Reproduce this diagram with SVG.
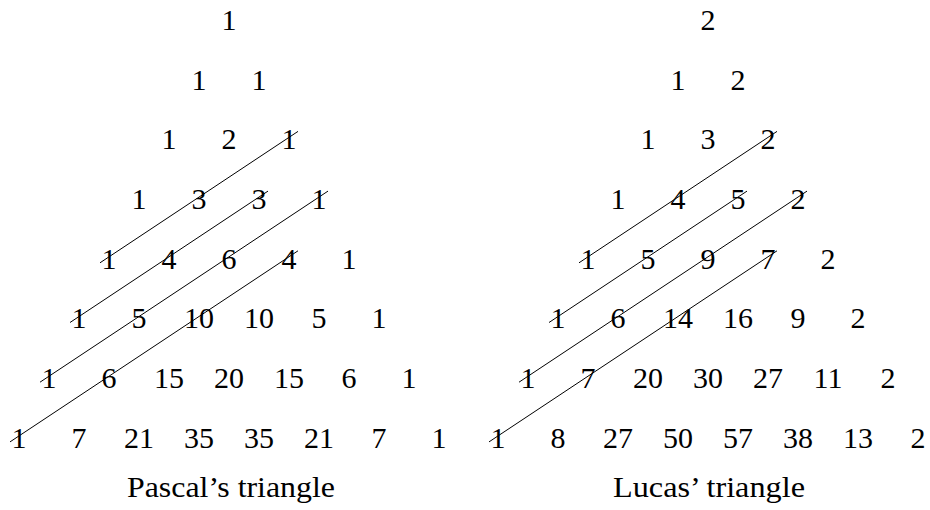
<svg xmlns="http://www.w3.org/2000/svg" width="930" height="510" viewBox="0 0 930 510">
<style>
text{font-family:"Liberation Serif","Times New Roman",serif;font-size:30px;fill:#000;text-anchor:middle}
.cap{font-size:30px}
line{stroke:#000;stroke-width:1}
</style>
<rect width="930" height="510" fill="#fff"/>
<g id="pascal">
<g id="p-r0"><text x="229" y="30">1</text></g>
<g id="p-r1"><text x="199" y="90">1</text><text x="259" y="90">1</text></g>
<g id="p-r2"><text x="169" y="149">1</text><text x="229" y="149">2</text><text x="289" y="149">1</text></g>
<g id="p-r3"><text x="139" y="209">1</text><text x="199" y="209">3</text><text x="259" y="209">3</text><text x="319" y="209">1</text></g>
<g id="p-r4"><text x="109" y="269">1</text><text x="169" y="269">4</text><text x="229" y="269">6</text><text x="289" y="269">4</text><text x="349" y="269">1</text></g>
<g id="p-r5"><text x="79" y="328">1</text><text x="139" y="328">5</text><text x="199" y="328">10</text><text x="259" y="328">10</text><text x="319" y="328">5</text><text x="379" y="328">1</text></g>
<g id="p-r6"><text x="49" y="388">1</text><text x="109" y="388">6</text><text x="169" y="388">15</text><text x="229" y="388">20</text><text x="289" y="388">15</text><text x="349" y="388">6</text><text x="409" y="388">1</text></g>
<g id="p-r7"><text x="19" y="448">1</text><text x="79" y="448">7</text><text x="139" y="448">21</text><text x="199" y="448">35</text><text x="259" y="448">35</text><text x="319" y="448">21</text><text x="379" y="448">7</text><text x="439" y="448">1</text></g>
<text id="p-caption" class="cap" x="231" y="497" textLength="208" lengthAdjust="spacingAndGlyphs">Pascal’s triangle</text>
</g>
<g id="lucas">
<g id="l-r0"><text x="708" y="30">2</text></g>
<g id="l-r1"><text x="678" y="90">1</text><text x="738" y="90">2</text></g>
<g id="l-r2"><text x="648" y="149">1</text><text x="708" y="149">3</text><text x="768" y="149">2</text></g>
<g id="l-r3"><text x="618" y="209">1</text><text x="678" y="209">4</text><text x="738" y="209">5</text><text x="798" y="209">2</text></g>
<g id="l-r4"><text x="588" y="269">1</text><text x="648" y="269">5</text><text x="708" y="269">9</text><text x="768" y="269">7</text><text x="828" y="269">2</text></g>
<g id="l-r5"><text x="558" y="328">1</text><text x="618" y="328">6</text><text x="678" y="328">14</text><text x="738" y="328">16</text><text x="798" y="328">9</text><text x="858" y="328">2</text></g>
<g id="l-r6"><text x="528" y="388">1</text><text x="588" y="388">7</text><text x="648" y="388">20</text><text x="708" y="388">30</text><text x="768" y="388">27</text><text x="828" y="388">11</text><text x="888" y="388">2</text></g>
<g id="l-r7"><text x="498" y="448">1</text><text x="558" y="448">8</text><text x="618" y="448">27</text><text x="678" y="448">50</text><text x="738" y="448">57</text><text x="798" y="448">38</text><text x="858" y="448">13</text><text x="918" y="448">2</text></g>
<text id="l-caption" class="cap" x="709" y="497" textLength="192" lengthAdjust="spacingAndGlyphs">Lucas’ triangle</text>
</g>
<g id="connectors">
<line x1="100" y1="262.8" x2="298" y2="131.4"/>
<line x1="70" y1="322.5" x2="268" y2="191.1"/>
<line x1="40" y1="382.2" x2="328" y2="191.1"/>
<line x1="10" y1="441.9" x2="298" y2="250.8"/>
<line x1="579" y1="262.8" x2="777" y2="131.4"/>
<line x1="549" y1="322.5" x2="747" y2="191.1"/>
<line x1="519" y1="382.2" x2="807" y2="191.1"/>
<line x1="489" y1="441.9" x2="777" y2="250.8"/>
</g>
</svg>
